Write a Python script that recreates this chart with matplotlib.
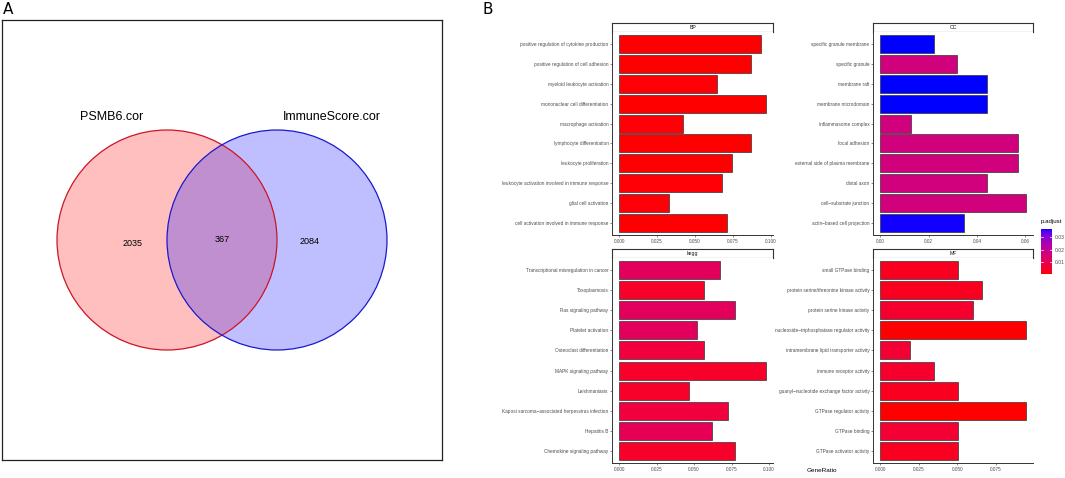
import numpy as np
import matplotlib
matplotlib.use("Agg")
import matplotlib.pyplot as plt
from matplotlib.colors import ListedColormap, Normalize
from matplotlib.patches import Circle
import matplotlib.ticker as mticker

plt.rcParams['font.family'] = ['Liberation Sans', 'DejaVu Sans']

# ---- data: Venn ----
set_names = ["PSMB6.cor", "ImmuneScore.cor"]
venn_counts = [2035, 367, 2084]  # only left, both, only right

# ---- data: enrichment facets ----
bp_terms = ["positive regulation of cytokine production", "positive regulation of cell adhesion",
            "myeloid leukocyte activation", "mononuclear cell differentiation",
            "macrophage activation", "lymphocyte differentiation", "leukocyte proliferation",
            "leukocyte activation involved in immune response", "glial cell activation",
            "cell activation involved in immune response"]
bp_ratio = [0.0936, 0.0873, 0.0646, 0.0967, 0.0422, 0.0873, 0.0743, 0.0679, 0.0325, 0.0710]
bp_padj = [0.0006, 0.0005, 0.0007, 0.0004, 0.0008, 0.0005, 0.0006, 0.0007, 0.0009, 0.0006]

cc_terms = ["specific granule membrane", "specific granule", "membrane raft",
            "membrane microdomain", "inflammasome complex", "focal adhesion",
            "external side of plasma membrane", "distal axon", "cell\u2212substrate junction",
            "actin\u2212based cell projection"]
cc_ratio = [0.0222, 0.0318, 0.0443, 0.0443, 0.0128, 0.0569, 0.0569, 0.0443, 0.0601, 0.0348]
cc_padj = [0.0364, 0.0165, 0.0363, 0.0363, 0.0165, 0.0165, 0.0165, 0.0165, 0.0165, 0.0362]

kegg_terms = ["Transcriptional misregulation in cancer", "Toxoplasmosis", "Ras signaling pathway",
              "Platelet activation", "Osteoclast differentiation", "MAPK signaling pathway",
              "Leishmaniasis", "Kaposi sarcoma\u2212associated herpesvirus infection",
              "Hepatitis B", "Chemokine signaling pathway"]
kegg_ratio = [0.0670, 0.0568, 0.0774, 0.0517, 0.0568, 0.0978, 0.0463, 0.0723, 0.0619, 0.0774]
kegg_padj = [0.0115, 0.0040, 0.0115, 0.0115, 0.0065, 0.0040, 0.0040, 0.0065, 0.0105, 0.0040]

mf_terms = ["small GTPase binding", "protein serine/threonine kinase activity",
            "protein serine kinase activity", "nucleoside\u2212triphosphatase regulator activity",
            "intramembrane lipid transporter activity", "immune receptor activity",
            "guanyl\u2212nucleotide exchange factor activity", "GTPase regulator activity",
            "GTPase binding", "GTPase activator activity"]
mf_ratio = [0.0504, 0.0662, 0.0600, 0.0945, 0.0191, 0.0349, 0.0504, 0.0945, 0.0504, 0.0504]
mf_padj = [0.0030, 0.0030, 0.0045, 0.0006, 0.0055, 0.0045, 0.0030, 0.0005, 0.0055, 0.0030]

facets = [("BP", bp_terms, bp_ratio, bp_padj, [0, 0.025, 0.05, 0.075, 0.1], "%.3f"),
          ("CC", cc_terms, cc_ratio, cc_padj, [0, 0.02, 0.04, 0.06], "%.2f"),
          ("kegg", kegg_terms, kegg_ratio, kegg_padj, [0, 0.025, 0.05, 0.075, 0.1], "%.3f"),
          ("MF", mf_terms, mf_ratio, mf_padj, [0, 0.025, 0.05, 0.075], "%.3f")]


# red -> blue gradient interpolated in CIE Lab (like ggplot's scale_color_gradient)
def srgb_to_lab(c):
    c = np.asarray(c, float)
    lin = np.where(c <= 0.04045, c / 12.92, ((c + 0.055) / 1.055) ** 2.4)
    M = np.array([[0.4124, 0.3576, 0.1805], [0.2126, 0.7152, 0.0722], [0.0193, 0.1192, 0.9505]])
    xyz = M @ lin / np.array([0.95047, 1.0, 1.08883])
    f = np.where(xyz > 0.008856, np.cbrt(xyz), 7.787 * xyz + 16 / 116)
    return np.array([116 * f[1] - 16, 500 * (f[0] - f[1]), 200 * (f[1] - f[2])])


def lab_to_srgb(lab):
    L, a, b = lab
    fy = (L + 16) / 116
    fx = fy + a / 500
    fz = fy - b / 200
    f = np.array([fx, fy, fz])
    xyz = np.where(f ** 3 > 0.008856, f ** 3, (f - 16 / 116) / 7.787) * np.array([0.95047, 1.0, 1.08883])
    Minv = np.array([[3.2406, -1.5372, -0.4986], [-0.9689, 1.8758, 0.0415], [0.0557, -0.2040, 1.0570]])
    lin = np.clip(Minv @ xyz, 0, 1)
    c = np.where(lin <= 0.0031308, 12.92 * lin, 1.055 * lin ** (1 / 2.4) - 0.055)
    return np.clip(c, 0, 1)


lab_lo = srgb_to_lab([1, 0, 0])
lab_hi = srgb_to_lab([0, 0, 1])
cmap = ListedColormap([lab_to_srgb(lab_lo + (lab_hi - lab_lo) * t) for t in np.linspace(0, 1, 256)])
all_p = bp_padj + cc_padj + kegg_padj + mf_padj
norm = Normalize(vmin=min(all_p), vmax=max(all_p))

W, H = 1065, 478
fig = plt.figure(figsize=(W / 100, H / 100), dpi=100)


def px_axes(x0, y0, x1, y1):
    return fig.add_axes([x0 / W, 1 - y1 / H, (x1 - x0) / W, (y1 - y0) / H])


# ---- panel A: Venn ----
fig.text(3 / W, 1 - 2 / H, "A", fontsize=11, va="top", ha="left",
         family=['Liberation Sans Narrow', 'DejaVu Sans'])
ax = px_axes(2, 20, 442, 460)
ax.set_xlim(0, 440)
ax.set_ylim(440, 0)
ax.set_xticks([])
ax.set_yticks([])
for s in ax.spines.values():
    s.set_linewidth(0.9)
    s.set_color("#222222")
r = 110
centers = [(165, 220), (275, 220)]
fills = ["#ff0000", "#0000ff"]
edges = ["#cc1428", "#1a1acc"]
for (cx, cy), fc in zip(centers, fills):
    ax.add_patch(Circle((cx, cy), r, facecolor=fc, alpha=0.25, edgecolor="none"))
for (cx, cy), ec in zip(centers, edges):
    ax.add_patch(Circle((cx, cy), r, facecolor="none", edgecolor=ec, lw=0.9))
ax.text(110, 97, set_names[0], fontsize=9, ha="center", va="center")
ax.text(330, 97, set_names[1], fontsize=9, ha="center", va="center")
ax.text(131, 223, str(venn_counts[0]), fontsize=6.5, ha="center", va="center")
ax.text(220, 220, str(venn_counts[1]), fontsize=6.5, ha="center", va="center")
ax.text(308, 222, str(venn_counts[2]), fontsize=6.5, ha="center", va="center")

# ---- panel B: faceted bar charts ----
fig.text(483 / W, 1 - 2 / H, "B", fontsize=11, va="top", ha="left",
         family=['Liberation Sans Narrow', 'DejaVu Sans'])
boxes = [(612, 23, 773, 235), (873, 23, 1033, 235), (612, 249, 773, 463), (873, 249, 1033, 463)]
strip_h = 9
for (name, terms, ratio, padj, ticks, fmt), (x0, y0, x1, y1) in zip(facets, boxes):
    sa = px_axes(x0, y0, x1, y0 + strip_h)
    sa.set_xticks([])
    sa.set_yticks([])
    for s in sa.spines.values():
        s.set_linewidth(0.8)
        s.set_color("#333333")
    sa.text(0.5, 0.45, name, fontsize=3.8, ha="center", va="center", transform=sa.transAxes,
            color="#1a1a1a")

    a = px_axes(x0, y0 + strip_h, x1, y1)
    n = len(terms)
    ypos = np.arange(n)
    a.barh(ypos, ratio, height=0.9, color=cmap(norm(padj)), edgecolor="#333333", linewidth=0.5)
    a.set_ylim(n - 1 + 0.6, -0.6)
    mx = max(ratio)
    a.set_xlim(-0.05 * mx, 1.05 * mx)
    a.set_yticks(ypos)
    a.set_yticklabels(terms)
    a.set_xticks(ticks)
    a.xaxis.set_major_formatter(mticker.FormatStrFormatter(fmt))
    a.tick_params(labelsize=3.4, labelcolor="#4d4d4d", length=1.6, width=0.4, pad=1,
                  color="#333333")
    for side in ["top", "right"]:
        a.spines[side].set_visible(False)
    for side in ["left", "bottom"]:
        a.spines[side].set_linewidth(0.7)
        a.spines[side].set_color("#333333")

fig.text(822 / W, 1 - 470 / H, "GeneRatio", fontsize=4.6, ha="center", va="center")

# colour legend
fig.text(1041 / W, 1 - 222 / H, "p.adjust", fontsize=4.4, ha="left", va="center")
ca = px_axes(1041, 229, 1052, 274)
grad = np.linspace(norm.vmin, norm.vmax, 200).reshape(-1, 1)
ca.imshow(grad, aspect="auto", cmap=cmap, norm=norm, origin="lower",
          extent=[0, 1, norm.vmin, norm.vmax])
ca.set_xticks([])
ca.yaxis.tick_right()
ca.set_yticks([0.01, 0.02, 0.03])
ca.yaxis.set_major_formatter(mticker.FormatStrFormatter("%.2f"))
ca.tick_params(axis="y", labelsize=3.6, labelcolor="#4d4d4d", length=0, pad=2)
for yv in [0.01, 0.02, 0.03]:
    ca.plot([0, 0.2], [yv, yv], color="white", lw=0.5)
    ca.plot([0.8, 1], [yv, yv], color="white", lw=0.5)
ca.set_xlim(0, 1)
for s in ca.spines.values():
    s.set_visible(False)

fig.savefig("out.png", dpi=100)
